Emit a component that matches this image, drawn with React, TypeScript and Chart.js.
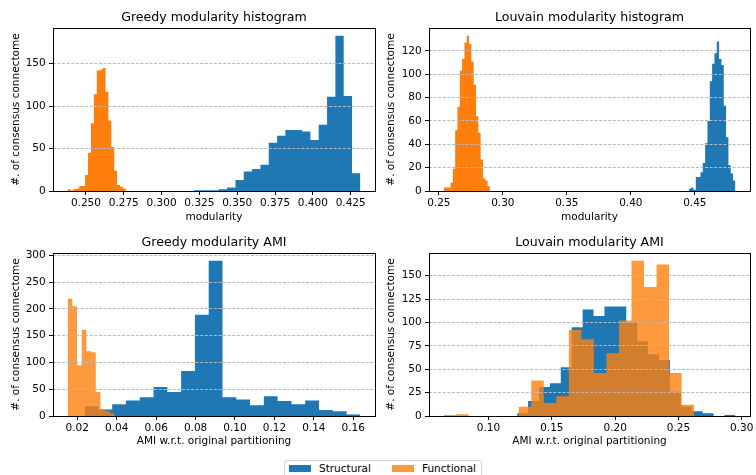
import React, { useEffect, useRef } from 'react';
import { Chart, registerables } from 'chart.js';

Chart.register(...registerables);

const FONT_FAMILY = "'DejaVu Sans', 'Liberation Sans', Arial, sans-serif";

const STRUCTURAL_COLOR = '#1f77b4';
const FUNCTIONAL_COLOR = '#ff7f0e';
const FUNCTIONAL_COLOR_SOFT = 'rgba(255, 127, 14, 0.8)';

const SERIES_LABELS = ['Structural', 'Functional'];
const Y_TITLE = '#. of consensus connectome';
const MOD_X_TITLE = 'modularity';
const AMI_X_TITLE = 'AMI w.r.t. original partitioning';

// ---- Greedy modularity histogram (bin range + counts per bin)
const GREEDY_MOD_STRUCT_RANGE = [0.3213, 0.4314];
const GREEDY_MOD_STRUCT_COUNTS = [1, 1, 1, 2, 4, 13, 23, 26, 31, 57, 65, 72, 72, 70, 60, 78, 111, 183, 112, 21];
const GREEDY_MOD_FUNC_RANGE = [0.2379, 0.2764];
const GREEDY_MOD_FUNC_COUNTS = [2, 1, 2, 3, 6, 6, 19, 45, 80, 114, 142, 143, 145, 117, 83, 52, 24, 7, 5, 3];
const GREEDY_MOD_X_TICKS = ['0.250', '0.275', '0.300', '0.325', '0.350', '0.375', '0.400', '0.425'];
const GREEDY_MOD_Y_TICKS = ['0', '50', '100', '150'];

// ---- Louvain modularity histogram
const LOUVAIN_MOD_STRUCT_RANGE = [0.4453, 0.4817];
const LOUVAIN_MOD_STRUCT_COUNTS = [2, 3, 1, 12, 12, 16, 24, 41, 60, 94, 109, 118, 128, 113, 108, 73, 46, 22, 15, 9];
const LOUVAIN_MOD_FUNC_RANGE = [0.2537, 0.2899];
const LOUVAIN_MOD_FUNC_COUNTS = [3, 3, 3, 7, 19, 52, 72, 103, 113, 127, 133, 126, 111, 91, 64, 50, 27, 11, 9, 4];
const LOUVAIN_MOD_X_TICKS = ['0.25', '0.30', '0.35', '0.40', '0.45'];
const LOUVAIN_MOD_Y_TICKS = ['0', '20', '40', '60', '80', '100', '120'];

// ---- Greedy modularity AMI
const GREEDY_AMI_STRUCT_RANGE = [0.0237, 0.1636];
const GREEDY_AMI_STRUCT_COUNTS = [18, 12, 22, 29, 35, 54, 45, 84, 189, 290, 35, 31, 20, 37, 28, 22, 29, 11, 9, 3];
const GREEDY_AMI_FUNC_RANGE = [0.0151, 0.0389];
const GREEDY_AMI_FUNC_COUNTS = [219, 205, 95, 161, 121, 119, 45, 12, 9, 5];
const GREEDY_AMI_X_TICKS = ['0.02', '0.04', '0.06', '0.08', '0.10', '0.12', '0.14', '0.16'];
const GREEDY_AMI_Y_TICKS = ['0', '50', '100', '150', '200', '250', '300'];

// ---- Louvain modularity AMI
const LOUVAIN_AMI_STRUCT_RANGE = [0.1226, 0.295];
const LOUVAIN_AMI_STRUCT_COUNTS = [3, 16, 31, 35, 52, 95, 114, 107, 117, 117, 100, 80, 66, 60, 26, 10, 5, 3, 0, 1];
const LOUVAIN_AMI_FUNC_RANGE = [0.0645, 0.2624];
const LOUVAIN_AMI_FUNC_COUNTS = [1, 2, 0, 0, 0, 0, 10, 38, 14, 21, 92, 82, 46, 67, 102, 166, 138, 162, 46, 12];
const LOUVAIN_AMI_X_TICKS = ['0.10', '0.15', '0.20', '0.25', '0.30'];
const LOUVAIN_AMI_Y_TICKS = ['0', '25', '50', '75', '100', '125', '150'];

function histPoints(range: number[], counts: number[]) {
  const n = counts.length;
  const w = (range[1] - range[0]) / n;
  const pts = counts.map((c, i) => ({ x: range[0] + i * w, y: c }));
  pts.push({ x: range[1], y: 0 });
  return pts;
}

const framePlugin = {
  id: 'mplFrame',
  afterDatasetsDraw(chart: any) {
    const { ctx, chartArea: a, scales } = chart;
    const ys = scales.y;
    ctx.save();
    ctx.strokeStyle = '#b8b8b8';
    ctx.lineWidth = 1;
    ctx.setLineDash([3, 1.6]);
    ys.ticks.forEach((t: any) => {
      const py = Math.floor(ys.getPixelForValue(t.value)) + 0.5;
      ctx.beginPath();
      ctx.moveTo(a.left, py);
      ctx.lineTo(a.right, py);
      ctx.stroke();
    });
    ctx.setLineDash([]);
    ctx.strokeStyle = '#000';
    ctx.lineWidth = 1;
    const l = Math.floor(a.left) + 0.5;
    const r = Math.floor(a.right) + 0.5;
    const t = Math.floor(a.top) + 0.5;
    const b = Math.floor(a.bottom) + 0.5;
    ctx.strokeRect(l, t, r - l, b - t);
    ctx.restore();
  },
};

type PanelSpec = {
  title: string;
  xTitle: string;
  structRange: number[];
  structCounts: number[];
  funcRange: number[];
  funcCounts: number[];
  funcColor: string;
  xTicks: string[];
  yTicks: string[];
  box: { left: number; top: number; w: number; h: number };
  yAxisW: number;
  xAxisH: number;
  padRight: number;
  titlePadTop: number;
  titlePadBottom: number;
  yTitlePad: number;
  xTitlePad: number;
};

const TICK_FONT = { family: FONT_FAMILY, size: 10.5, lineHeight: 1.2 };

function buildConfig(p: PanelSpec): any {
  const lo = Math.min(p.structRange[0], p.funcRange[0]);
  const hi = Math.max(p.structRange[1], p.funcRange[1]);
  const margin = (hi - lo) * 0.05;
  const yMax = Math.max(...p.structCounts, ...p.funcCounts) * 1.05;
  const common = {
    fill: 'origin',
    stepped: true,
    pointRadius: 0,
    pointHoverRadius: 0,
    borderWidth: 0,
    borderColor: 'rgba(0,0,0,0)',
    tension: 0,
  };
  return {
    type: 'line',
    data: {
      datasets: [
        { ...common, label: SERIES_LABELS[0], data: histPoints(p.structRange, p.structCounts), backgroundColor: STRUCTURAL_COLOR, order: 2 },
        { ...common, label: SERIES_LABELS[1], data: histPoints(p.funcRange, p.funcCounts), backgroundColor: p.funcColor, order: 1 },
      ],
    },
    options: {
      responsive: false,
      maintainAspectRatio: false,
      animation: false,
      events: [],
      layout: { autoPadding: false, padding: { left: 0, right: p.padRight, top: 0, bottom: 0 } },
      plugins: {
        legend: { display: false },
        tooltip: { enabled: false },
        title: {
          display: true,
          text: p.title,
          fullSize: false,
          color: '#000',
          font: { family: FONT_FAMILY, size: 12.6, weight: 'normal', lineHeight: 1.2 },
          padding: { top: p.titlePadTop, bottom: p.titlePadBottom },
        },
      },
      scales: {
        x: {
          type: 'linear',
          bounds: 'data',
          min: lo - margin,
          max: hi + margin,
          afterBuildTicks: (s: any) => {
            s.ticks = p.xTicks.map((l) => ({ value: Number(l) }));
          },
          afterFit: (s: any) => {
            s.height = p.xAxisH;
          },
          ticks: {
            autoSkip: false,
            maxRotation: 0,
            minRotation: 0,
            padding: 2,
            color: '#000',
            font: TICK_FONT,
            callback: (_v: any, i: number) => p.xTicks[i],
          },
          grid: { drawOnChartArea: false, drawTicks: true, tickLength: 4, tickColor: '#000', tickWidth: 1 },
          border: { display: false },
          title: {
            display: true,
            text: p.xTitle,
            color: '#000',
            font: TICK_FONT,
            padding: { top: 0, bottom: p.xTitlePad },
          },
        },
        y: {
          type: 'linear',
          bounds: 'data',
          min: 0,
          max: yMax,
          afterBuildTicks: (s: any) => {
            s.ticks = p.yTicks.map((l) => ({ value: Number(l) }));
          },
          afterFit: (s: any) => {
            s.width = p.yAxisW;
          },
          ticks: {
            autoSkip: false,
            padding: 3.3,
            color: '#000',
            font: TICK_FONT,
            callback: (_v: any, i: number) => p.yTicks[i],
          },
          grid: { drawOnChartArea: false, drawTicks: true, tickLength: 4, tickColor: '#000', tickWidth: 1 },
          border: { display: false },
          title: {
            display: true,
            text: Y_TITLE,
            color: '#000',
            font: TICK_FONT,
            padding: { top: p.yTitlePad, bottom: 0 },
          },
        },
      },
    },
    plugins: [framePlugin],
  };
}

const PANELS: PanelSpec[] = [
  {
    title: 'Greedy modularity histogram',
    xTitle: MOD_X_TITLE,
    structRange: GREEDY_MOD_STRUCT_RANGE,
    structCounts: GREEDY_MOD_STRUCT_COUNTS,
    funcRange: GREEDY_MOD_FUNC_RANGE,
    funcCounts: GREEDY_MOD_FUNC_COUNTS,
    funcColor: FUNCTIONAL_COLOR,
    xTicks: GREEDY_MOD_X_TICKS,
    yTicks: GREEDY_MOD_Y_TICKS,
    box: { left: 0, top: 0, w: 378, h: 225 },
    yAxisW: 53,
    xAxisH: 34,
    padRight: 3,
    titlePadTop: 9.9,
    titlePadBottom: 2.98,
    yTitlePad: 9.7,
    xTitlePad: 1,
  },
  {
    title: 'Louvain modularity histogram',
    xTitle: MOD_X_TITLE,
    structRange: LOUVAIN_MOD_STRUCT_RANGE,
    structCounts: LOUVAIN_MOD_STRUCT_COUNTS,
    funcRange: LOUVAIN_MOD_FUNC_RANGE,
    funcCounts: LOUVAIN_MOD_FUNC_COUNTS,
    funcColor: FUNCTIONAL_COLOR,
    xTicks: LOUVAIN_MOD_X_TICKS,
    yTicks: LOUVAIN_MOD_Y_TICKS,
    box: { left: 378, top: 0, w: 378, h: 225 },
    yAxisW: 51,
    xAxisH: 34,
    padRight: 6,
    titlePadTop: 9.9,
    titlePadBottom: 2.98,
    yTitlePad: 7.4,
    xTitlePad: 1,
  },
  {
    title: 'Greedy modularity AMI',
    xTitle: AMI_X_TITLE,
    structRange: GREEDY_AMI_STRUCT_RANGE,
    structCounts: GREEDY_AMI_STRUCT_COUNTS,
    funcRange: GREEDY_AMI_FUNC_RANGE,
    funcCounts: GREEDY_AMI_FUNC_COUNTS,
    funcColor: FUNCTIONAL_COLOR_SOFT,
    xTicks: GREEDY_AMI_X_TICKS,
    yTicks: GREEDY_AMI_Y_TICKS,
    box: { left: 0, top: 225, w: 378, h: 250 },
    yAxisW: 53,
    xAxisH: 59,
    padRight: 3,
    titlePadTop: 9.9,
    titlePadBottom: 2.98,
    yTitlePad: 9.7,
    xTitlePad: 27.7,
  },
  {
    title: 'Louvain modularity AMI',
    xTitle: AMI_X_TITLE,
    structRange: LOUVAIN_AMI_STRUCT_RANGE,
    structCounts: LOUVAIN_AMI_STRUCT_COUNTS,
    funcRange: LOUVAIN_AMI_FUNC_RANGE,
    funcCounts: LOUVAIN_AMI_FUNC_COUNTS,
    funcColor: FUNCTIONAL_COLOR_SOFT,
    xTicks: LOUVAIN_AMI_X_TICKS,
    yTicks: LOUVAIN_AMI_Y_TICKS,
    box: { left: 378, top: 225, w: 378, h: 250 },
    yAxisW: 51,
    xAxisH: 59,
    padRight: 6,
    titlePadTop: 9.9,
    titlePadBottom: 2.98,
    yTitlePad: 7.4,
    xTitlePad: 27.7,
  },
];

function Panel({ spec }: { spec: PanelSpec }) {
  const ref = useRef<HTMLCanvasElement | null>(null);
  useEffect(() => {
    if (!ref.current) return;
    const chart = new Chart(ref.current, buildConfig(spec));
    return () => chart.destroy();
  }, [spec]);
  const { left, top, w, h } = spec.box;
  return (
    <canvas
      ref={ref}
      width={w}
      height={h}
      style={{ position: 'absolute', left, top, width: w, height: h, display: 'block' }}
    />
  );
}

function Legend() {
  const item = (color: string, label: string, gap: number) => (
    <div style={{ display: 'flex', alignItems: 'center', marginRight: gap }}>
      <span style={{ display: 'inline-block', width: 22, height: 7, background: color, marginRight: 8 }} />
      <span style={{ whiteSpace: 'nowrap' }}>{label}</span>
    </div>
  );
  return (
    <div
      style={{
        position: 'absolute',
        left: 284,
        top: 460,
        width: 198,
        height: 22,
        boxSizing: 'border-box',
        border: '1px solid #d4d4d4',
        borderRadius: 3,
        background: '#fff',
        display: 'flex',
        alignItems: 'flex-start',
        paddingLeft: 4,
        paddingTop: 1,
        fontFamily: FONT_FAMILY,
        fontSize: 10.5,
        lineHeight: '12px',
        color: '#000',
      }}
    >
      {item(STRUCTURAL_COLOR, SERIES_LABELS[0], 21)}
      {item(FUNCTIONAL_COLOR_SOFT, SERIES_LABELS[1], 0)}
    </div>
  );
}

export default function App() {
  return (
    <div
      style={{
        position: 'fixed',
        left: 0,
        top: 0,
        width: 756,
        height: 475,
        overflow: 'hidden',
        background: '#fff',
      }}
    >
      {PANELS.map((p, i) => (
        <Panel key={i} spec={p} />
      ))}
      <Legend />
    </div>
  );
}
